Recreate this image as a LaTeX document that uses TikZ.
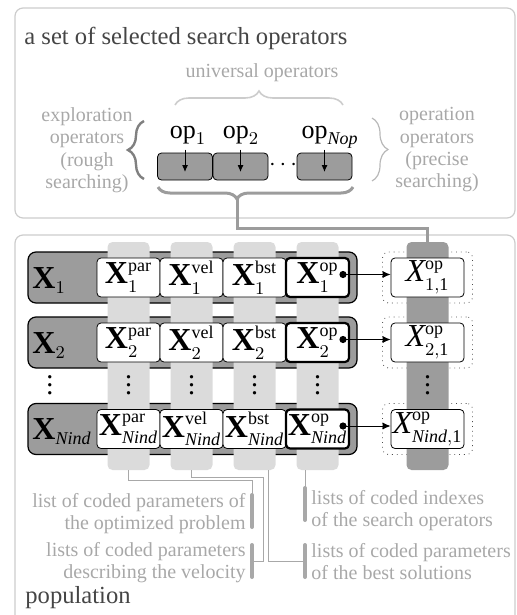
\documentclass[tikz,border=0pt]{standalone}
\usepackage{fontspec}
\setmainfont{Liberation Serif}
\usetikzlibrary{arrows.meta}
\usetikzlibrary{decorations.pathreplacing}
\DeclareMathSizes{16}{16}{9}{7}
\DeclareMathSizes{13}{13}{9}{7}

\definecolor{rim}{gray}{0.80}
\definecolor{faint}{gray}{0.66}
\definecolor{ink}{gray}{0.27}
\definecolor{slot}{gray}{0.61}
\definecolor{lanegray}{gray}{0.86}

\tikzset{
  panel/.style={draw=rim, line width=0.6pt, rounded corners=4pt},
  caption/.style={text=ink, font=\fontsize{12.3}{14}\selectfont, inner sep=0pt},
  faintnote/.style={text=faint, font=\fontsize{10}{11.2}\selectfont, inner sep=0pt},
  oplab/.style={font=\fontsize{13}{15}\selectfont, inner sep=0pt, anchor=base},
  opslot/.style={draw, fill=slot, line width=0.4pt, rounded corners=2pt,
    minimum width=27.5pt, minimum height=13.5pt, inner sep=0pt},
  indiv/.style={draw, fill=slot, line width=0.6pt, rounded corners=4pt,
    minimum width=164.5pt, minimum height=25.5pt, inner sep=0pt},
  holder/.style={draw=black!70, dotted, line width=0.4pt, rounded corners=3pt,
    minimum width=45pt, minimum height=25.5pt, inner sep=0pt},
  lane/.style={fill=lanegray, rounded corners=2.5pt,
    minimum width=21pt, minimum height=114pt, inner sep=0pt},
  oplane/.style={lane, fill=slot},
  part/.style={draw, fill=white, line width=0.4pt, rounded corners=2pt,
    minimum width=31.5pt, minimum height=19.5pt, inner sep=0pt,
    font=\fontsize{16}{18}\selectfont},
  oppart/.style={part, line width=1.1pt},
  gene/.style={part, minimum width=36.5pt},
  rowlab/.style={font=\fontsize{16}{18}\selectfont, inner sep=0pt, anchor=base west},
  bullet/.style={circle, fill, inner sep=0pt, minimum size=3.6pt},
  link/.style={line width=0.5pt, -{Latex[length=4pt, width=3.6pt]}},
  drop/.style={line width=0.5pt, -{Latex[length=3.5pt, width=3pt]}},
  stem/.style={draw=slot, line width=1.5pt},
  lead/.style={draw=faint, line width=0.5pt},
  bar/.style={draw=faint, line width=2pt, line cap=round},
}

\begin{document}
\begin{tikzpicture}[x=0.5pt, y=-0.5pt]
\useasboundingbox (0,0) rectangle (517,615);

% operators
\draw[panel] (15,8) rectangle (515,218);
\node[caption, anchor=base west] (settitle) at (24,45) {a set of selected search operators};
\node[faintnote, anchor=base] (univ) at (262,78) {universal operators};
\node[faintnote, align=center, anchor=north] (explo) at (87,107) {exploration\\operators\\(rough\\searching)};
\node[faintnote, align=center, anchor=north] (opera) at (437,107) {operation\\operators\\(precise\\searching)};

\node[opslot] (slotA) at (185,166.5) {};
\node[opslot] (slotB) at (240.5,166.5) {};
\node[opslot] (slotC) at (324.5,166.5) {};
\node[inner sep=0pt, font=\fontsize{13}{15}\selectfont] (slotdots) at (283,165) {$\cdots$};
\node[oplab] (labA) at (188,138) {$\mathrm{op}_1$};
\node[oplab] (labB) at (241,138) {$\mathrm{op}_2$};
\node[oplab] (labC) at (330,138) {$\mathrm{op}_{\mathit{Nop}}$};
\foreach \s in {A,B,C}
  \draw[drop] ([yshift=1.5pt]slot\s.north) -- ([yshift=-2.75pt]slot\s.center);

\draw[decorate, decoration={brace, amplitude=7pt}, draw=rim, line width=0.8pt]
  (175,105) -- (343,105);
\draw[decorate, decoration={brace, amplitude=8pt}, draw=black!50, line width=1.2pt]
  (144,179) -- (144,121);
\draw[decorate, decoration={brace, amplitude=8pt}, draw=black!28, line width=0.6pt]
  (372,118) -- (372,181);
\draw[decorate, decoration={brace, amplitude=6pt, aspect=0.595}, stem]
  (353,187) -- (158,187);
\coordinate (bracetip) at (237,199);

% population
\draw[panel] (15,235) rectangle (515,640);
\node[caption, anchor=base west] (poptitle) at (25,603) {population};

\foreach \r/\y in {1/277.5, 2/342.5, N/429} {
  \node[indiv] (row\r) at (192.5,\y) {};
  \node[holder] (hold\r) at (427.5,\y) {};
}

\node[lane] (lpar) at (128.5,356) {};
\node[lane] (lvel) at (191.5,356) {};
\node[lane] (lbst) at (254.5,356) {};
\node[lane] (lop) at (317.5,356) {};
\node[oplane] (lgene) at (427.5,356) {};
\draw[stem] (bracetip) -- ++(0,29) -| (lgene.north);

\foreach \r/\y/\s in {1/277.5/1, 2/342.5/2, N/429/\mathit{Nind}} {
  \node[rowlab] (lab\r) at (32,{\y+10.5}) {$\mathbf{X}_{\s}$};
  \node[part] (par\r) at (128.5,\y) {$\mathbf{X}^{\mathrm{par}}_{\s}$};
  \node[part] (vel\r) at (191.5,\y) {$\mathbf{X}^{\mathrm{vel}}_{\s}$};
  \node[part] (bst\r) at (254.5,\y) {$\mathbf{X}^{\mathrm{bst}}_{\s}$};
  \node[oppart] (op\r) at (317.5,\y) {$\mathbf{X}^{\mathrm{op}}_{\s}$\hspace{2pt}};
  \node[gene] (gene\r) at (427.5,\y) {$\mathit{X}^{\mathrm{op}}_{\s\mathrm{,1}}$};
  \node[bullet] (bul\r) at (343,{\y-3}) {};
  \draw[link] (bul\r.center) -- (bul\r -| gene\r.west);
}

\foreach \x [count=\k] in {50,128.5,191.5,254.5,317.5,427.5}
  \node[inner sep=0pt, font=\fontsize{14}{16}\selectfont] (vd\k) at (\x,379) {$\vdots$};

% notes
\coordinate (barparT) at (252,495);
\coordinate (barparB) at (252,527);
\coordinate (barvelT) at (252,545);
\coordinate (barvelB) at (252,577);
\coordinate (baropT) at (305,488);
\coordinate (baropB) at (305,520);
\coordinate (barbstT) at (305,545);
\coordinate (barbstB) at (305,577);
\coordinate (velbend) at (263,561);

\draw[lead] (lpar.south) -- ++(0,10) -| (barparT);
\draw[lead] (lvel.south) -- ++(0,7) -| (velbend) -- (velbend -| barvelT);
\draw[lead] ([xshift=6.75pt]lbst.south) |- (barbstT |- velbend);
\draw[lead] ([xshift=-6.25pt]lop.south) -- (baropT);
\draw[bar] (barparT) -- (barparB);
\draw[bar] (barvelT) -- (barvelB);
\draw[bar] (baropT) -- (baropB);
\draw[bar] (barbstT) -- (barbstB);

\node[faintnote, align=right, anchor=north east] (notepar) at (246,493) {list of coded parameters of\\the optimized problem};
\node[faintnote, align=right, anchor=north east] (notevel) at (246,542) {lists of coded parameters\\describing the velocity};
\node[faintnote, align=left, anchor=north west] (noteop) at (311,490) {lists of coded indexes\\of the search operators};
\node[faintnote, align=left, anchor=north west] (notebst) at (311,543) {lists of coded parameters\\of the best solutions};
\end{tikzpicture}
\end{document}
